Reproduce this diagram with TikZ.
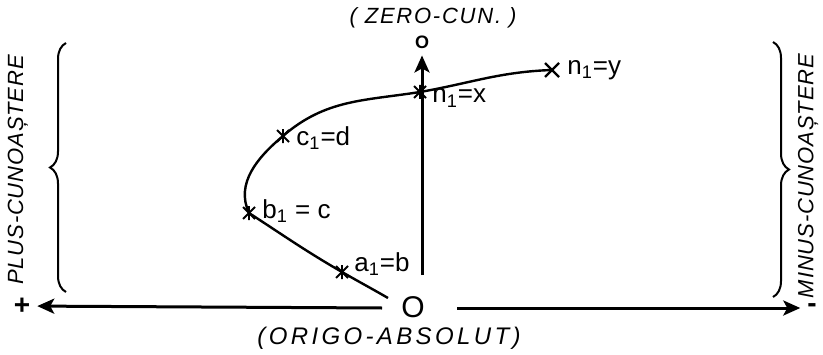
\documentclass[tikz,border=0pt]{standalone}
\usepackage{fontspec}
\setmainfont{Liberation Sans}
\usetikzlibrary{arrows.meta, decorations.pathreplacing, positioning}
\tikzset{axis/.style={line width=1.5pt,-{Stealth[length=8.5pt,width=7.5pt,inset=2pt]}},
    curve/.style={line width=1.2pt},
    crossline/.style={line width=0.9pt},
    lbl/.style={font=\fontsize{13}{13}\selectfont, inner sep=0pt, anchor=west},
    caption/.style={font=\fontsize{11}{11}\selectfont\itshape\addfontfeature{LetterSpace=4}},
    bracket/.style={decorate, decoration={brace, amplitude=8pt}, line width=1pt}}

\begin{document}
\begin{tikzpicture}[x=0.5pt, y=0.5pt]
  \useasboundingbox (0,0) rectangle (823,354);

  % Axes and their ends
  \node[font=\fontsize{15}{15}\selectfont] (orig) at (413,47) {O};
  \node[font=\fontsize{14}{14}\selectfont\bfseries] (plus) at (22,48) {+};
  \node[font=\fontsize{14}{14}\selectfont\bfseries] (minus) at (812,46) {-};
  \node[font=\fontsize{9}{9}\selectfont\bfseries] (zero) at (422,312) {O};
  \coordinate (axL) at (382,46);
  \coordinate (axR) at (457,46);
  \coordinate (vbot) at (422,79);

  \draw[axis] (axL) -- (plus);
  \draw[axis] (axR) -- (minus);
  \draw[axis] (vbot) -- (zero);

  % Captions
  \node[caption, font=\fontsize{11}{11}\selectfont\itshape\addfontfeature{LetterSpace=8}] (zerocap) at (433,336) {( ZERO-CUN. )};
  \node[caption, font=\fontsize{12}{12}\selectfont\itshape\addfontfeature{LetterSpace=14}] (origcap) at (389,16) {(ORIGO-ABSOLUT)};
  \node[caption, rotate=90] (pluscap) at (18,184) {PLUS-CUNOAȘTERE};
  \node[caption, rotate=90] (minuscap) at (808,178) {MINUS-CUNOAȘTERE};

  % Braces
  \draw[bracket] (66,62) -- (66,311);
  \draw[bracket] (773,312) -- (773,57);

  % The curve
  \coordinate (cstart) at (388,56);
  \coordinate (a1) at (342,82);
  \coordinate (b1) at (249,141);
  \coordinate (c1) at (283,218);
  \coordinate (n1) at (420,262);
  \coordinate (cend) at (552,284);

  \draw[curve] (cstart) to[out=150,in=-30] (a1)
                        to[out=150,in=-33] (b1)
                        to[out=115,in=220] (c1)
                        to[out=41,in=189] (n1)
                        to[out=10,in=182] (cend);

  % Marks on the curve
  \foreach \pt in {a1,b1,c1,n1}
    \draw[crossline] ([shift={(-6,-6)}]\pt) -- ([shift={(6,6)}]\pt)
                     ([shift={(-6,6)}]\pt) -- ([shift={(6,-6)}]\pt)
                     ([shift={(0,-7)}]\pt) -- ([shift={(0,7)}]\pt);
  \draw[crossline, line width=1.2pt] ([shift={(-7,-7)}]cend) -- ([shift={(7,7)}]cend)
                   ([shift={(-7,7)}]cend) -- ([shift={(7,-7)}]cend);

  % Labels
  \foreach \pt/\txt/\dx/\dy in {a1/{a\textsubscript{1}=b}/12/8,
                                b1/{b\textsubscript{1} = c}/13/2,
                                c1/{c\textsubscript{1}=d}/13/-2,
                                n1/{n\textsubscript{1}=x}/12/-6,
                                cend/{n\textsubscript{1}=y}/15/0}
    \node[lbl] at ([shift={(\dx,\dy)}]\pt) {\txt};

\end{tikzpicture}
\end{document}
